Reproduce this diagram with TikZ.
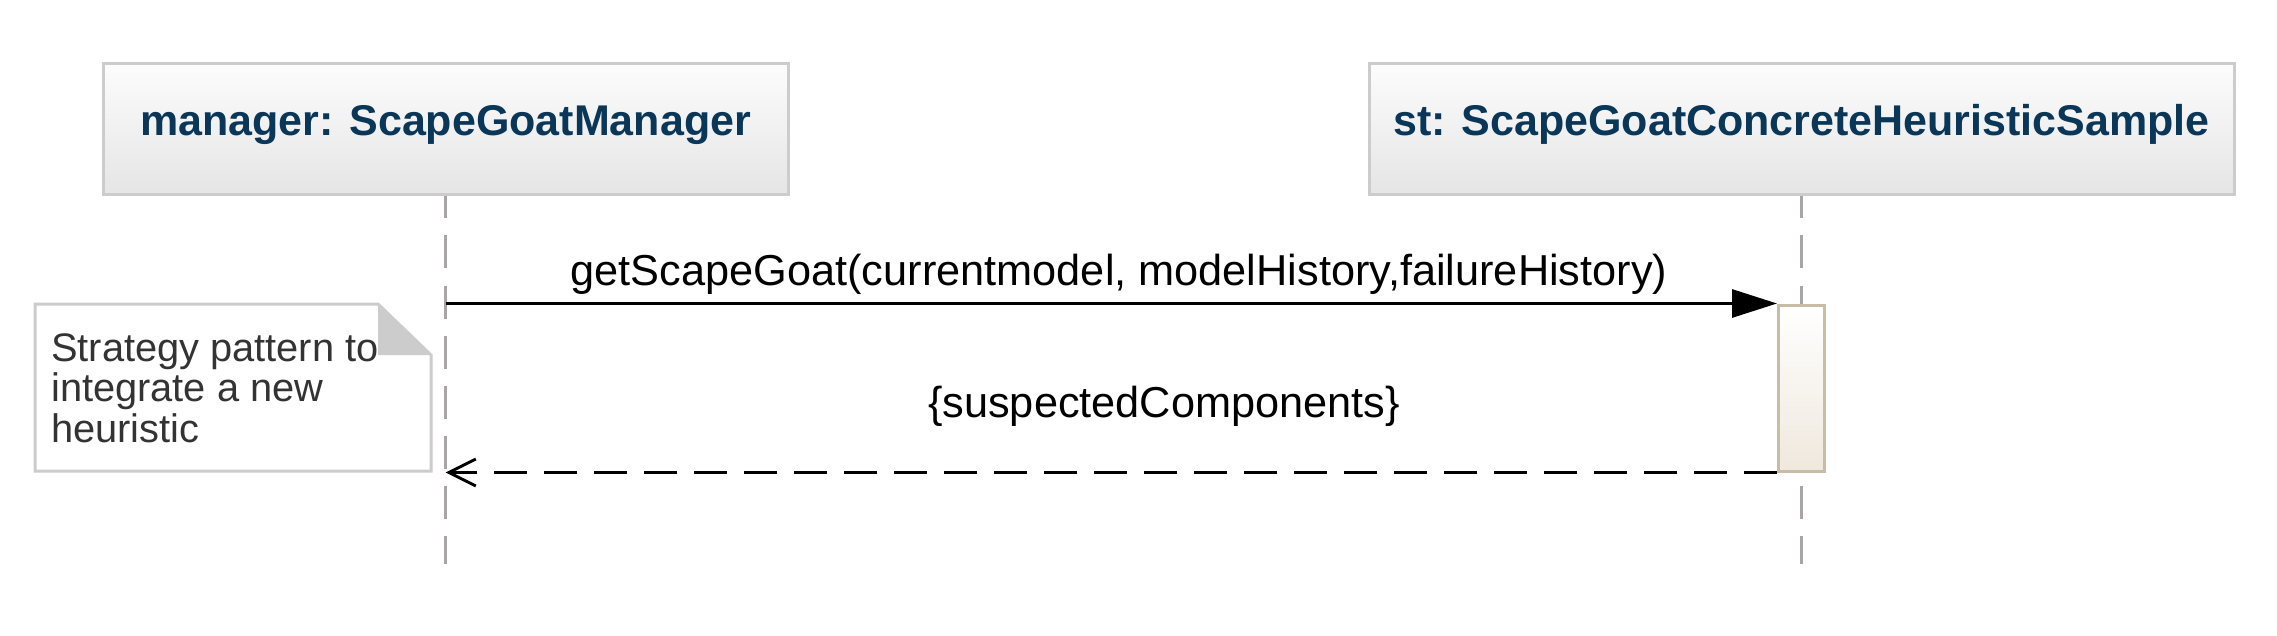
\documentclass[tikz,border=0pt]{standalone}
\usepackage{fontspec}
\setmainfont{Liberation Sans}
\usetikzlibrary{arrows.meta}
\definecolor{titleblue}{HTML}{0A3658}
\definecolor{boxgray}{HTML}{CCCCCC}
\definecolor{boxtop}{HTML}{FCFCFC}
\definecolor{boxbot}{HTML}{E5E5E5}
\definecolor{lifegray}{HTML}{A9A5A5}
\definecolor{actborder}{HTML}{C8BCA4}
\definecolor{actbot}{HTML}{EFE8DD}
\definecolor{notetextc}{HTML}{333333}
\begin{document}
\begin{tikzpicture}[x=1pt,y=-1pt,
  lifebox/.style={draw=boxgray, line width=3pt, top color=boxtop, bottom color=boxbot,
    minimum height=131pt, inner sep=0pt, text height=12pt, text depth=0pt,
    font=\fontsize{43pt}{50pt}\selectfont\bfseries, text=titleblue},
  lifeline/.style={draw=lifegray, line width=3pt, dash pattern=on 33pt off 17pt, dash phase=11pt},
  actbox/.style={draw=actborder, line width=3pt, top color=white, bottom color=actbot,
    minimum width=46pt, minimum height=166pt, inner sep=0pt},
  msg/.style={draw=black, line width=3pt},
  retmsg/.style={draw=black, line width=3pt, dash pattern=on 33pt off 17pt},
  msglabel/.style={font=\fontsize{43.3pt}{50pt}\selectfont, text=black, inner sep=0pt, anchor=base},
  notebox/.style={draw=boxgray, line width=3pt, fill=white},
  notetext/.style={font=\fontsize{39.8pt}{39.5pt}\selectfont, text=notetextc, inner sep=0pt, anchor=base west}
]
\useasboundingbox (0,0) rectangle (2277,636);
\fill[white] (0,0) rectangle (2277,636);

% lifeline heads
\node[lifebox, minimum width=685pt] (mgr) at (445.5,129.5) {manager: ScapeGoatManager};
\node[lifebox, minimum width=865pt] (st) at (1801.5,129.5) {st: ScapeGoatConcreteHeuristicSample};

% lifelines
\coordinate (mgrend) at (mgr.south |- 0,564);
\coordinate (stend) at (st.south |- 0,564);
\draw[lifeline] (mgr.south) -- (mgrend);
\draw[lifeline] (st.south) -- (stend);

% activation
\node[actbox] (act) at (st.south |- 0,388) {};

% note
\draw[notebox] (35,304) -- (378,304) -- (431,355) -- (431,471) -- (35,471) -- cycle;
\fill[boxgray] (378,304) -- (378,355) -- (431,355) -- cycle;
\node[notetext] (note) at (51,361) {\begin{tabular}[t]{@{}l@{}}Strategy pattern to\\integrate a new\\heuristic\end{tabular}};

% messages
\draw[msg, -{Triangle[length=45pt,width=28pt]}] (mgr.south |- act.north) -- (act.north west);
\node[msglabel] (l1) at (1119,285) {getScapeGoat(currentmodel, modelHistory,failureHistory)};
\draw[retmsg, -{Straight Barb[length=27pt,width=27pt]}] (act.south west) -- (mgr.south |- act.south);
\node[msglabel] (l2) at (1164,417) {\{suspectedComponents\}};
\end{tikzpicture}
\end{document}
